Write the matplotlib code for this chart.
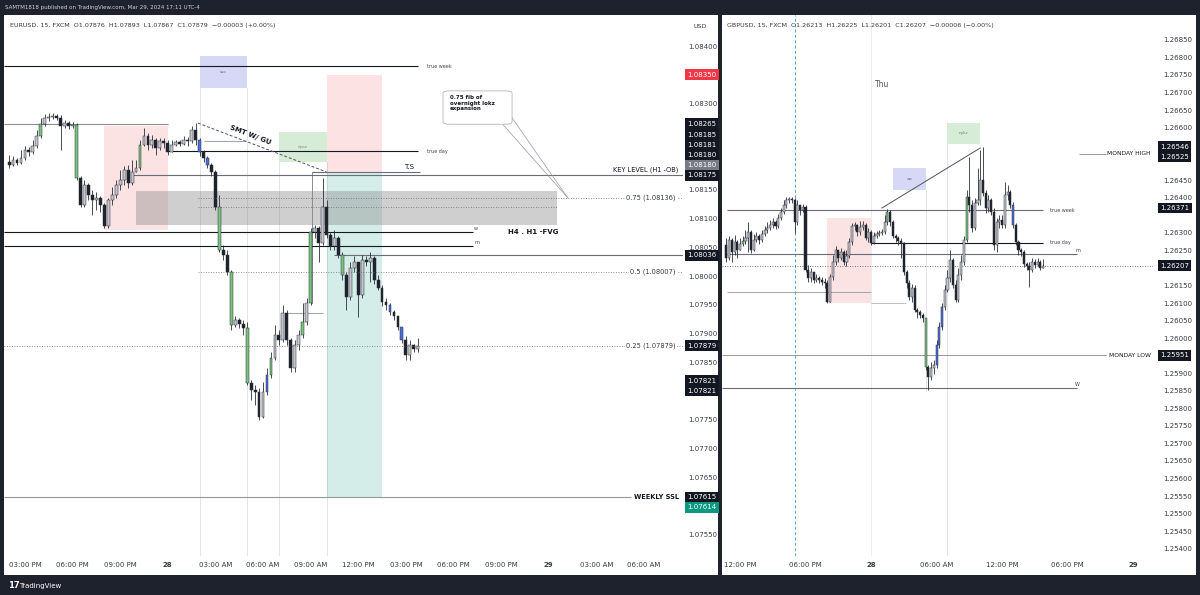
import matplotlib

matplotlib.use("Agg")
import matplotlib.pyplot as plt
import numpy as np
from matplotlib.patches import FancyBboxPatch, Rectangle
from matplotlib.transforms import offset_copy

# ---- EURUSD 15m, first bar 14:00 Mar 27 (x axis = hours after 15:00 Mar 27)
EU_START = -1.0
EU_FIRST_OPEN = 1.08198
EU_CLOSE = [
    1.08193, 1.08202, 1.08196, 1.08205, 1.08219, 1.08216, 1.08226, 1.08243, 1.08264, 1.08275,
    1.08276, 1.08278, 1.08275, 1.08261, 1.08266, 1.08261, 1.08263, 1.08170, 1.08123, 1.08158,
    1.08141, 1.08132, 1.08135, 1.08123, 1.08087, 1.08132, 1.08141, 1.08158, 1.08167, 1.08184,
    1.08162, 1.08181, 1.08188, 1.08228, 1.08243, 1.08228, 1.08236, 1.08222, 1.08235, 1.08231,
    1.08216, 1.08228, 1.08233, 1.08229, 1.08236, 1.08235, 1.08254, 1.08236, 1.08216, 1.08205,
    1.08193, 1.08181, 1.08120, 1.08045, 1.08036, 1.08007, 1.07915, 1.07923, 1.07916, 1.07909,
    1.07814, 1.07801, 1.07798, 1.07754, 1.07798, 1.07828, 1.07857, 1.07897, 1.07888, 1.07935,
    1.07888, 1.07840, 1.07880, 1.07897, 1.07920, 1.07953, 1.08076, 1.08083, 1.08057, 1.08120,
    1.08071, 1.08052, 1.08066, 1.08036, 1.08002, 1.07963, 1.08014, 1.08024, 1.07967, 1.08028,
    1.08024, 1.08031, 1.07993, 1.07979, 1.07955, 1.07949, 1.07937, 1.07930, 1.07911, 1.07888,
    1.07862, 1.07880, 1.07873, 1.07879,
]
EU_HIGH = [
    1.08210, 1.08209, 1.08205, 1.08219, 1.08226, 1.08224, 1.08236, 1.08254, 1.08275, 1.08282,
    1.08283, 1.08283, 1.08282, 1.08280, 1.08271, 1.08269, 1.08268, 1.08266, 1.08174, 1.08167,
    1.08162, 1.08149, 1.08146, 1.08139, 1.08127, 1.08135, 1.08155, 1.08167, 1.08184, 1.08191,
    1.08193, 1.08202, 1.08202, 1.08236, 1.08257, 1.08249, 1.08245, 1.08240, 1.08240, 1.08240,
    1.08236, 1.08236, 1.08236, 1.08236, 1.08243, 1.08242, 1.08261, 1.08266, 1.08240, 1.08219,
    1.08209, 1.08196, 1.08184, 1.08141, 1.08054, 1.08045, 1.08010, 1.07930, 1.07927, 1.07923,
    1.07920, 1.07819, 1.07810, 1.07805, 1.07815, 1.07840, 1.07868, 1.07915, 1.07906, 1.07949,
    1.07941, 1.07892, 1.07888, 1.07906, 1.07953, 1.07961, 1.08083, 1.08089, 1.08087, 1.08170,
    1.08132, 1.08076, 1.08080, 1.08069, 1.08042, 1.08007, 1.08024, 1.08035, 1.08024, 1.08036,
    1.08035, 1.08042, 1.08035, 1.08002, 1.07984, 1.07961, 1.07953, 1.07941, 1.07923, 1.07909,
    1.07895, 1.07888, 1.07881, 1.07893,
]
EU_LOW = [
    1.08188, 1.08191, 1.08193, 1.08195, 1.08202, 1.08209, 1.08212, 1.08222, 1.08240, 1.08261,
    1.08269, 1.08273, 1.08271, 1.08219, 1.08257, 1.08255, 1.08257, 1.08167, 1.08120, 1.08120,
    1.08132, 1.08106, 1.08115, 1.08111, 1.08083, 1.08083, 1.08123, 1.08135, 1.08149, 1.08158,
    1.08153, 1.08158, 1.08181, 1.08184, 1.08226, 1.08219, 1.08222, 1.08210, 1.08219, 1.08222,
    1.08210, 1.08216, 1.08226, 1.08226, 1.08228, 1.08226, 1.08231, 1.08228, 1.08209, 1.08198,
    1.08188, 1.08174, 1.08115, 1.08042, 1.08028, 1.08002, 1.07906, 1.07911, 1.07909, 1.07897,
    1.07810, 1.07784, 1.07775, 1.07749, 1.07753, 1.07793, 1.07822, 1.07854, 1.07880, 1.07885,
    1.07880, 1.07833, 1.07833, 1.07871, 1.07892, 1.07915, 1.07949, 1.08066, 1.08024, 1.08054,
    1.08066, 1.08045, 1.08045, 1.08031, 1.07993, 1.07941, 1.07958, 1.08007, 1.07928, 1.07961,
    1.08017, 1.07989, 1.07986, 1.07975, 1.07948, 1.07941, 1.07932, 1.07923, 1.07906, 1.07883,
    1.07854, 1.07854, 1.07868, 1.07867,
]
# bars painted by the author's indicator (g = green, b = blue)
EU_MARKED = {8: "g", 17: "g", 33: "g", 48: "b", 50: "b", 53: "g", 56: "g", 60: "g",
             65: "b", 66: "g", 74: "g", 76: "g", 84: "g", 96: "b", 99: "b"}

# ---- GBPUSD 15m, first bar 10:45 Mar 27 (x axis = hours after 12:00 Mar 27)
GU_START = -1.25
GU_FIRST_OPEN = 1.26266
GU_CLOSE = [
    1.26229, 1.26280, 1.26246, 1.26274, 1.26252, 1.26269, 1.26277, 1.26286, 1.26303, 1.26252,
    1.26280, 1.26291, 1.26280, 1.26297, 1.26309, 1.26314, 1.26323, 1.26331, 1.26320, 1.26343,
    1.26360, 1.26380, 1.26394, 1.26397, 1.26394, 1.26331, 1.26380, 1.26366, 1.26374, 1.26195,
    1.26172, 1.26189, 1.26166, 1.26172, 1.26166, 1.26160, 1.26158, 1.26103, 1.26175, 1.26218,
    1.26252, 1.26229, 1.26246, 1.26218, 1.26235, 1.26274, 1.26320, 1.26323, 1.26303, 1.26317,
    1.26323, 1.26286, 1.26303, 1.26272, 1.26291, 1.26297, 1.26300, 1.26303, 1.26331, 1.26360,
    1.26331, 1.26291, 1.26286, 1.26277, 1.26272, 1.26189, 1.26158, 1.26118, 1.26143, 1.26081,
    1.26075, 1.26067, 1.26058, 1.25918, 1.25890, 1.25915, 1.25924, 1.25981, 1.26032, 1.26089,
    1.26138, 1.26172, 1.26224, 1.26152, 1.26109, 1.26180, 1.26218, 1.26280, 1.26403, 1.26380,
    1.26314, 1.26385, 1.26394, 1.26451, 1.26414, 1.26371, 1.26394, 1.26360, 1.26266, 1.26331,
    1.26337, 1.26323, 1.26408, 1.26417, 1.26380, 1.26323, 1.26274, 1.26252, 1.26246, 1.26212,
    1.26206, 1.26195, 1.26218, 1.26209, 1.26218, 1.26201, 1.26207,
]
GU_HIGH = [
    1.26286, 1.26291, 1.26286, 1.26294, 1.26280, 1.26286, 1.26291, 1.26309, 1.26331, 1.26309,
    1.26297, 1.26303, 1.26297, 1.26309, 1.26320, 1.26331, 1.26337, 1.26343, 1.26337, 1.26354,
    1.26371, 1.26394, 1.26403, 1.26403, 1.26403, 1.26400, 1.26394, 1.26380, 1.26383, 1.26380,
    1.26209, 1.26201, 1.26189, 1.26183, 1.26178, 1.26175, 1.26172, 1.26166, 1.26183, 1.26238,
    1.26263, 1.26252, 1.26256, 1.26252, 1.26252, 1.26286, 1.26328, 1.26331, 1.26326, 1.26334,
    1.26334, 1.26328, 1.26314, 1.26309, 1.26303, 1.26306, 1.26309, 1.26311, 1.26351, 1.26368,
    1.26366, 1.26337, 1.26297, 1.26291, 1.26286, 1.26274, 1.26195, 1.26166, 1.26155, 1.26152,
    1.26086, 1.26081, 1.26072, 1.26058, 1.25924, 1.25932, 1.25938, 1.25995, 1.26047, 1.26101,
    1.26152, 1.26195, 1.26252, 1.26229, 1.26166, 1.26201, 1.26238, 1.26291, 1.26422, 1.26517,
    1.26394, 1.26400, 1.26485, 1.26537, 1.26546, 1.26422, 1.26408, 1.26400, 1.26371, 1.26343,
    1.26351, 1.26351, 1.26445, 1.26437, 1.26422, 1.26388, 1.26328, 1.26280, 1.26256, 1.26252,
    1.26218, 1.26218, 1.26229, 1.26226, 1.26229, 1.26224, 1.26225,
]
GU_LOW = [
    1.26218, 1.26224, 1.26218, 1.26238, 1.26229, 1.26252, 1.26263, 1.26269, 1.26246, 1.26243,
    1.26249, 1.26274, 1.26269, 1.26274, 1.26291, 1.26300, 1.26309, 1.26314, 1.26311, 1.26314,
    1.26337, 1.26354, 1.26371, 1.26385, 1.26385, 1.26300, 1.26323, 1.26351, 1.26360, 1.26189,
    1.26160, 1.26160, 1.26158, 1.26160, 1.26158, 1.26152, 1.26143, 1.26101, 1.26103, 1.26166,
    1.26209, 1.26218, 1.26224, 1.26209, 1.26206, 1.26229, 1.26266, 1.26309, 1.26291, 1.26294,
    1.26309, 1.26280, 1.26274, 1.26266, 1.26269, 1.26286, 1.26291, 1.26294, 1.26297, 1.26323,
    1.26320, 1.26286, 1.26274, 1.26266, 1.26229, 1.26180, 1.26143, 1.26109, 1.26103, 1.26075,
    1.26058, 1.26058, 1.26047, 1.25909, 1.25853, 1.25881, 1.25898, 1.25915, 1.25972, 1.26024,
    1.26081, 1.26132, 1.26160, 1.26143, 1.26103, 1.26103, 1.26166, 1.26209, 1.26274, 1.26360,
    1.26303, 1.26309, 1.26380, 1.26380, 1.26405, 1.26357, 1.26360, 1.26351, 1.26252, 1.26246,
    1.26314, 1.26314, 1.26314, 1.26394, 1.26371, 1.26314, 1.26266, 1.26238, 1.26235, 1.26204,
    1.26195, 1.26146, 1.26189, 1.26201, 1.26206, 1.26195, 1.26201,
]
GU_MARKED = {6: "g", 59: "g", 73: "g", 77: "b", 78: "b", 79: "b", 88: "g", 105: "b"}

# ---- axis ticks / labels (ticks hidden under the price tags are left out)
EU_PRICE_TICKS = [1.0755, 1.0765, 1.0770, 1.0775, 1.0785, 1.0790, 1.0795, 1.0800,
                  1.0805, 1.0810, 1.0815, 1.0830, 1.0840]
EU_TIME_TICKS = [0, 3, 6, 9, 12, 15, 18, 21, 24, 27, 30, 33, 36, 39]
EU_TIME_LABELS = ["03:00 PM", "06:00 PM", "09:00 PM", "28", "03:00 AM", "06:00 AM", "09:00 AM",
                  "12:00 PM", "03:00 PM", "06:00 PM", "09:00 PM", "29", "03:00 AM", "06:00 AM"]
GU_PRICE_TICKS = [1.2540, 1.2545, 1.2550, 1.2555, 1.2560, 1.2565, 1.2570, 1.2575, 1.2580,
                  1.2585, 1.2590, 1.2600, 1.2605, 1.2610, 1.2615, 1.2625, 1.2630, 1.2640,
                  1.2645, 1.2660, 1.2665, 1.2670, 1.2675, 1.2680, 1.2685]
GU_TIME_TICKS = [0, 6, 12, 18, 24, 30, 36]
GU_TIME_LABELS = ["12:00 PM", "06:00 PM", "28", "06:00 AM", "12:00 PM", "06:00 PM", "29"]

# ---- drawings, EURUSD
EU_TRUE_WEEK = 1.08365
EU_PREV_HIGH = 1.08265
EU_TRUE_DAY = 1.08217
EU_KEY_LEVEL = 1.08175
EU_TS = 1.08181
EU_W = 1.08076
EU_M = 1.08052
EU_LEVEL_036 = 1.08036
EU_WEEKLY_SSL = 1.07615
EU_FIBS = [(0.75, 1.08136), (0.5, 1.08007), (0.25, 1.07879)]
EU_FVG = (1.08089, 1.08148)
EU_ASIA = (1.08080, 1.08261)
EU_LONDON = (1.08327, 1.08383)
EU_NY = (1.08198, 1.08250)
EU_POSITION = (1.08181, 1.08350, 1.07615)  # entry, stop, target
EU_SMT = [(10.9, 1.08266), (19.0, 1.08181)]

# ---- drawings, GBPUSD
GU_TRUE_WEEK = 1.26365
GU_TRUE_DAY = 1.26272
GU_M = 1.26240
GU_W = 1.25858
GU_MONDAY_HIGH = 1.26525
GU_MONDAY_LOW = 1.25951
GU_ASIA = (1.26101, 1.26343)
GU_LONDON = (1.26422, 1.26485)
GU_NY = (1.26554, 1.26613)
GU_SMT = [(13.0, 1.26371), (22.0, 1.26542)]

INK = "#131722"
WICK = "#2a2e39"
BULL = "#c3c5cb"
BEAR = "#1e222d"
MARK = {"g": "#7cc17f", "b": "#4c6ed8"}
RED = "#f23645"
TEAL = "#089981"
FRAME = "#1e222d"

FIG_W, FIG_H = 1200, 595
fig = plt.figure(figsize=(12, 5.95), dpi=100, facecolor=FRAME)


def fig_box(x0, y0, x1, y1):
    return [x0 / FIG_W, 1 - y1 / FIG_H, (x1 - x0) / FIG_W, (y1 - y0) / FIG_H]


for x0, x1 in [(4, 718), (722, 1196)]:
    fig.add_artist(Rectangle((x0 / FIG_W, 1 - 575 / FIG_H), (x1 - x0) / FIG_W, 560 / FIG_H,
                             transform=fig.transFigure, fc="white", ec="none", zorder=-5))

ax_eu = fig.add_axes(fig_box(4, 15, 683, 556))
ax_gu = fig.add_axes(fig_box(722, 15, 1153, 556))
ax_eu.set_xlim(-1.32, 41.46)
ax_eu.set_ylim(1.07513, 1.08454)
ax_gu.set_xlim(-1.65, 37.82)
ax_gu.set_ylim(1.25379, 1.26921)


def draw_candles(ax, start, first_open, closes, highs, lows, marked, body_w):
    c = np.array(closes)
    o = np.concatenate([[first_open], c[:-1]])
    hi = np.maximum(np.array(highs), np.maximum(o, c))
    lo = np.minimum(np.array(lows), np.minimum(o, c))
    t = start + 0.25 * np.arange(len(c))
    colors = []
    for i in range(len(c)):
        if i in marked:
            colors.append(MARK[marked[i]])
        elif c[i] >= o[i]:
            colors.append(BULL)
        else:
            colors.append(BEAR)
    ax.vlines(t, lo, hi, colors=WICK, lw=0.6, zorder=4)
    ax.bar(t, np.maximum(np.abs(c - o), 0.000012), body_w, bottom=np.minimum(o, c),
           color=colors, edgecolor=WICK, linewidth=0.35, zorder=5)


def style_axes(ax, price_ticks, time_ticks, time_labels, pad):
    for spine in ax.spines.values():
        spine.set_visible(False)
    ax.yaxis.tick_right()
    ax.set_yticks(price_ticks)
    ax.set_yticklabels([f"{v:.5f}" for v in price_ticks])
    ax.set_xticks(time_ticks)
    ax.set_xticklabels(time_labels)
    ax.tick_params(axis="y", length=0, pad=pad, labelsize=5, labelcolor="#363a45")
    ax.tick_params(axis="x", length=0, pad=4, labelsize=5, labelcolor="#363a45")
    for lbl in ax.get_xticklabels():
        if lbl.get_text() in ("28", "29"):
            lbl.set_fontweight("bold")


def tag(ax, price, text, fc, dy=0, dx=4):
    tr = offset_copy(ax.get_yaxis_transform(), fig=fig, x=dx, y=-dy, units="dots")
    ax.text(1.0, price, text, transform=tr, ha="left", va="center", fontsize=5, color="white",
            bbox=dict(boxstyle="square,pad=0.35", fc=fc, ec="none"), clip_on=False, zorder=20)


def hline(ax, y, x0, x1, color=INK, lw=0.8, ls="-", z=3):
    ax.plot([x0, x1], [y, y], color=color, lw=lw, ls=ls, zorder=z, solid_capstyle="butt")


def box(ax, x0, x1, y0, y1, fc, alpha=1.0, z=1):
    ax.add_patch(Rectangle((x0, y0), x1 - x0, y1 - y0, fc=fc, ec="none", alpha=alpha, zorder=z))


def small(ax, x, y, s, size=3.5, **kw):
    ax.text(x, y, s, fontsize=size, color="#434651", va="center", **kw)


# ================= EURUSD =================
ax = ax_eu
x_lo, x_hi = ax.get_xlim()
y_lo = ax.get_ylim()[0]
faint = "#e3e4e8"
for xv, top in [(11, EU_LONDON[0]), (14, EU_LONDON[0]), (16, EU_NY[0]), (19, EU_NY[0])]:
    ax.plot([xv, xv], [y_lo, top], color=faint, lw=0.7, zorder=0.5)
box(ax, 5, 9, EU_ASIA[0], EU_ASIA[1], "#fbe3e3")
box(ax, 11, 14, EU_LONDON[0], EU_LONDON[1], "#d6d8f6")
box(ax, 16, 19, EU_NY[0], EU_NY[1], "#d7ecd6")
ax.text(12.5, sum(EU_LONDON) / 2, "sso", fontsize=3, color="#6a6d8a", ha="center", va="center")
ax.text(17.5, sum(EU_NY) / 2, "nyoz", fontsize=3, color="#6a8a6d", ha="center", va="center")
entry, stop, target = EU_POSITION
box(ax, 19.0, 22.5, entry, stop, RED, alpha=0.14)
box(ax, 19.0, 22.5, target, entry, TEAL, alpha=0.17)
box(ax, 7.0, 33.5, EU_FVG[0], EU_FVG[1], "#8d8d8d", alpha=0.42, z=2)

hline(ax, EU_TRUE_WEEK, x_lo, 24.75)
small(ax, 25.3, EU_TRUE_WEEK, "true week")
hline(ax, EU_PREV_HIGH, x_lo, 9.0, color="#8a8d96")
hline(ax, EU_TRUE_DAY, 9.0, 24.75)
small(ax, 25.3, EU_TRUE_DAY, "true day")
hline(ax, 1.08235, 11.3, 13.9, color="#a3a6af")
hline(ax, 1.07935, 16.3, 18.8, color="#a3a6af")
hline(ax, EU_TS, 18.1, 24.9, color="#6a6d78")
ax.plot([18.1, 18.1], [1.07953, EU_TS], color="#8a8d96", lw=0.7, zorder=3)
ax.text(24.2, EU_TS + 0.00004, "T.S", fontsize=5, color=INK, ha="center", va="bottom")
hline(ax, EU_KEY_LEVEL, 6.8, x_hi, color="#6a6d78")
ax.text(41.2, EU_KEY_LEVEL + 0.00004, "KEY LEVEL (H1 -OB)", fontsize=4.8, color=INK,
        ha="right", va="bottom")
hline(ax, EU_W, x_lo, 28.2)
hline(ax, EU_M, x_lo, 28.2)
ax.text(28.3, EU_W + 0.00002, "w", fontsize=3.5, color="#434651", va="bottom")
ax.text(28.3, EU_M + 0.00002, "m", fontsize=3.5, color="#434651", va="bottom")
hline(ax, EU_LEVEL_036, 19.5, x_hi, color="#6a6d78")
hline(ax, EU_WEEKLY_SSL, x_lo, 38.2, color="#9598a1")
ax.text(41.2, EU_WEEKLY_SSL, "WEEKLY SSL", fontsize=4.8, color=INK, ha="right", va="center",
        fontweight="bold")
ax.text(32.0, EU_W, "H4 . H1 -FVG", fontsize=5, color=INK, ha="center", va="center",
        fontweight="bold")

ax.plot([x[0] for x in EU_SMT], [x[1] for x in EU_SMT], color="#50535e", lw=0.7, ls=(0, (3, 2)),
        zorder=6)
ax.text(14.2, 1.08245, "SMT W/ GU", fontsize=5, color=INK, rotation=-21, ha="center",
        va="center", rotation_mode="anchor", fontweight="bold")

hline(ax, 1.08120, 10.9, 33.5, color="#6a6d78", lw=0.6, ls=(0, (1, 2)))
for level, price in EU_FIBS:
    start = x_lo if level == 0.25 else 10.9
    hline(ax, price, start, x_hi, color="#6a6d78", lw=0.6, ls=(0, (1, 2)), z=6)
    ax.text(41.0, price, f"{level} ({price:.5f})", fontsize=4.8, color="#363a45", ha="right",
            va="center", zorder=7, bbox=dict(boxstyle="square,pad=0.15", fc="white", ec="none"))

note = FancyBboxPatch((26.34, 1.08264), 4.35, 0.00058, boxstyle="round,pad=0,rounding_size=0.4",
                      fc="white", ec="#b2b5be", lw=0.6, zorder=7, mutation_aspect=0.0001)
ax.add_patch(note)
ax.text(26.75, 1.08314, "0.75 fib of\novernight lokz\nexpansion", fontsize=4, color=INK,
        va="top", fontweight="bold", linespacing=1.1, zorder=8)
ax.plot([30.1, 34.2], [1.08264, 1.08136], color="#9598a1", lw=0.5, zorder=6)
ax.plot([30.69, 34.2], [1.08275, 1.08136], color="#9598a1", lw=0.5, zorder=6)

draw_candles(ax, EU_START, EU_FIRST_OPEN, EU_CLOSE, EU_HIGH, EU_LOW, EU_MARKED, 0.18)
style_axes(ax, EU_PRICE_TICKS, EU_TIME_TICKS, EU_TIME_LABELS, 3.5)

tag(ax, 1.08350, "1.08350", RED)
tag(ax, 1.08265, "1.08265", INK)
for k, (txt, fc) in enumerate([("1.08185", INK), ("1.08181", INK), ("1.08180", INK),
                                ("1.08180", "#787b86"), ("1.08175", INK)]):
    tag(ax, 1.08175, txt, fc, dy=-10.2 * (4 - k))
tag(ax, 1.08036, "1.08036", INK)
tag(ax, 1.07879, "1.07879", INK)
tag(ax, 1.07821, "1.07821", INK, dy=2)
tag(ax, 1.07821, "1.07821", INK, dy=12)
tag(ax, 1.07615, "1.07615", INK)
tag(ax, 1.07615, "1.07614", TEAL, dy=10)

# ================= GBPUSD =================
ax = ax_gu
x_lo, x_hi = ax.get_xlim()
y_lo, y_hi = ax.get_ylim()
ax.plot([12, 12], [y_lo, y_hi], color="#ececef", lw=0.7, zorder=0.5)
ax.plot([5, 5], [y_lo, y_hi], color="#5a9fd6", lw=0.7, ls=(0, (3, 2.5)), zorder=0.6)
ax.plot([17, 17], [1.25850, GU_LONDON[0]], color=faint, lw=0.7, zorder=0.5)
ax.plot([19, 19], [y_lo, GU_NY[0]], color=faint, lw=0.7, zorder=0.5)
ax.text(13.0, 1.26722, "Thu", fontsize=5.5, color="#50535e", ha="center", va="center")
box(ax, 8, 12, GU_ASIA[0], GU_ASIA[1], "#fbe3e3")
box(ax, 14, 17, GU_LONDON[0], GU_LONDON[1], "#d6d8f6")
box(ax, 19, 22, GU_NY[0], GU_NY[1], "#d7ecd6")
ax.text(15.5, sum(GU_LONDON) / 2, "wo", fontsize=3, color="#6a6d8a", ha="center", va="center")
ax.text(20.5, sum(GU_NY) / 2, "nykz", fontsize=3, color="#6a8a6d", ha="center", va="center")
ax.plot([p[0] for p in GU_SMT], [p[1] for p in GU_SMT], color="#50535e", lw=0.7, zorder=6)

hline(ax, GU_TRUE_WEEK, -1.2, 27.75, color="#6a6d78")
small(ax, 28.4, GU_TRUE_WEEK, "true week")
hline(ax, GU_TRUE_DAY, 12, 27.75)
small(ax, 28.4, GU_TRUE_DAY, "true day")
hline(ax, GU_M, -1.2, 30.9, color="#6a6d78")
ax.text(30.7, GU_M + 0.00003, "m", fontsize=3.5, color="#434651", va="bottom")
hline(ax, GU_W, x_lo, 30.9, color="#6a6d78")
ax.text(30.7, GU_W + 0.00003, "W", fontsize=3.5, color="#434651", va="bottom")
hline(ax, 1.26132, -1.2, 12, color="#9598a1", lw=0.6)
hline(ax, 1.26101, 12, 15.2, color="#b2b5be", lw=0.6)
hline(ax, GU_MONDAY_HIGH, 31.0, 33.5, color="#9598a1", lw=0.7)
hline(ax, GU_MONDAY_LOW, x_lo, 33.5, color="#9598a1", lw=0.7)
ax.text(37.6, GU_MONDAY_HIGH, "MONDAY HIGH", fontsize=4.3, color=INK, ha="right", va="center")
ax.text(37.6, GU_MONDAY_LOW, "MONDAY LOW", fontsize=4.3, color=INK, ha="right", va="center")

draw_candles(ax, GU_START, GU_FIRST_OPEN, GU_CLOSE, GU_HIGH, GU_LOW, GU_MARKED, 0.19)
hline(ax, GU_CLOSE[-1], x_lo, x_hi, color="#50535e", lw=0.6, ls=(0, (1, 2)), z=3)
style_axes(ax, GU_PRICE_TICKS, GU_TIME_TICKS, GU_TIME_LABELS, 7.5)

tag(ax, 1.26546, "1.26546", INK, dx=7)
tag(ax, 1.26525, "1.26525", INK, dy=3, dx=7)
tag(ax, 1.26371, "1.26371", INK, dx=7)
tag(ax, 1.26207, "1.26207", INK, dx=7)
tag(ax, 1.25951, "1.25951", INK, dx=7)

# ================= headers / frame text =================
fig.text(5 / FIG_W, 1 - 7 / FIG_H, "SAMTM1818 published on TradingView.com, Mar 29, 2024 17:11 UTC-4",
         fontsize=4, color="#d1d4dc", va="center")
fig.text(10 / FIG_W, 1 - 25 / FIG_H,
         "EURUSD, 15, FXCM  O1.07876  H1.07893  L1.07867  C1.07879  \u22120.00003 (+0.00%)",
         fontsize=4.6, color="#363a45", va="center")
fig.text(727 / FIG_W, 1 - 25 / FIG_H,
         "GBPUSD, 15, FXCM  O1.26213  H1.26225  L1.26201  C1.26207  \u22120.00006 (\u22120.00%)",
         fontsize=4.6, color="#363a45", va="center")
fig.text(700 / FIG_W, 1 - 27 / FIG_H, "USD", fontsize=4.6, color="#363a45", va="center",
         ha="center")
fig.text(8 / FIG_W, 1 - 586 / FIG_H, "17", fontsize=6, color="white", va="center",
         fontweight="bold")
fig.text(19 / FIG_W, 1 - 586 / FIG_H, "TradingView", fontsize=5, color="white", va="center")

fig.savefig("out.png", dpi=100, facecolor=FRAME)
